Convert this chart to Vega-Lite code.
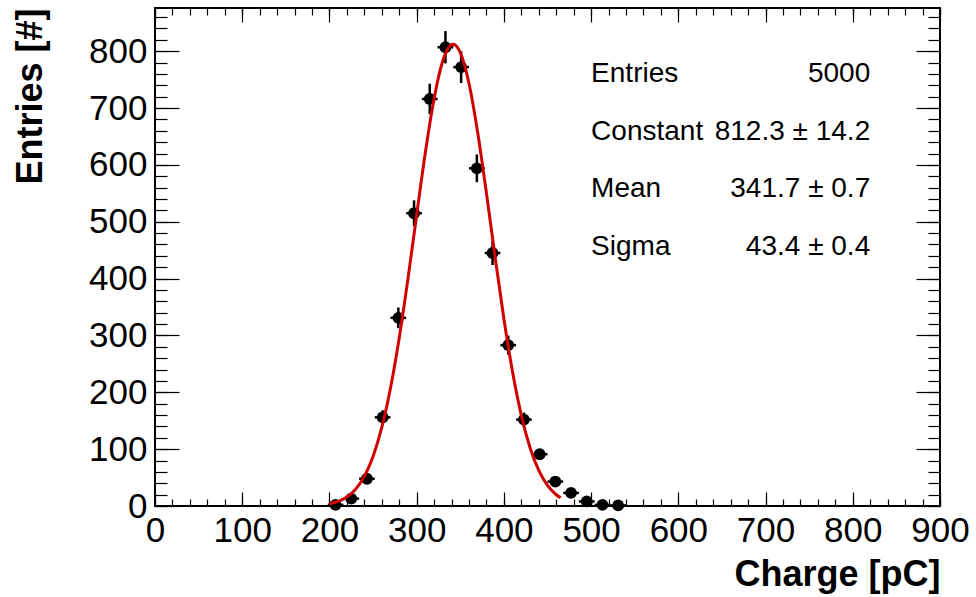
{
  "$schema": "https://vega.github.io/schema/vega-lite/v6.json",
  "width": 785,
  "height": 498,
  "autosize": "none",
  "padding": {"left": 155, "top": 8, "right": 36, "bottom": 91},
  "background": "white",
  "datasets": {
    "hist": [
      {"charge": 207, "count": 2, "lo": 0.59, "hi": 3.41, "x0": 198, "x1": 216},
      {"charge": 225, "count": 13, "lo": 9.39, "hi": 16.61, "x0": 216, "x1": 234},
      {"charge": 243, "count": 48, "lo": 41.07, "hi": 54.93, "x0": 234, "x1": 252},
      {"charge": 261, "count": 156, "lo": 143.51, "hi": 168.49, "x0": 252, "x1": 270},
      {"charge": 279, "count": 331, "lo": 312.81, "hi": 349.19, "x0": 270, "x1": 288},
      {"charge": 297, "count": 515, "lo": 492.31, "hi": 537.69, "x0": 288, "x1": 306},
      {"charge": 315, "count": 716, "lo": 689.24, "hi": 742.76, "x0": 306, "x1": 324},
      {"charge": 333, "count": 807, "lo": 778.59, "hi": 835.41, "x0": 324, "x1": 342},
      {"charge": 351, "count": 772, "lo": 744.22, "hi": 799.78, "x0": 342, "x1": 360},
      {"charge": 369, "count": 594, "lo": 569.63, "hi": 618.37, "x0": 360, "x1": 378},
      {"charge": 387, "count": 445, "lo": 423.9, "hi": 466.1, "x0": 378, "x1": 396},
      {"charge": 405, "count": 283, "lo": 266.18, "hi": 299.82, "x0": 396, "x1": 414},
      {"charge": 423, "count": 152, "lo": 139.67, "hi": 164.33, "x0": 414, "x1": 432},
      {"charge": 441, "count": 91, "lo": 81.46, "hi": 100.54, "x0": 432, "x1": 450},
      {"charge": 459, "count": 43, "lo": 36.44, "hi": 49.56, "x0": 450, "x1": 468},
      {"charge": 477, "count": 23, "lo": 18.2, "hi": 27.8, "x0": 468, "x1": 486},
      {"charge": 495, "count": 8, "lo": 5.17, "hi": 10.83, "x0": 486, "x1": 504},
      {"charge": 513, "count": 2, "lo": 0.59, "hi": 3.41, "x0": 504, "x1": 522},
      {"charge": 531, "count": 1, "lo": 0, "hi": 2, "x0": 522, "x1": 540}
    ],
    "fit": [
      {"charge": 200, "fit": 3.93},
      {"charge": 210, "fit": 8.13},
      {"charge": 220, "fit": 15.93},
      {"charge": 230, "fit": 29.6},
      {"charge": 240, "fit": 52.16},
      {"charge": 250, "fit": 87.15},
      {"charge": 260, "fit": 138.1},
      {"charge": 270, "fit": 207.51},
      {"charge": 280, "fit": 295.69},
      {"charge": 290, "fit": 399.55},
      {"charge": 300, "fit": 511.97},
      {"charge": 310, "fit": 622.12},
      {"charge": 320, "fit": 716.85},
      {"charge": 330, "fit": 783.31},
      {"charge": 340, "fit": 811.68},
      {"charge": 341.7, "fit": 812.3},
      {"charge": 350, "fit": 797.58},
      {"charge": 360, "fit": 743.2},
      {"charge": 370, "fit": 656.73},
      {"charge": 380, "fit": 550.31},
      {"charge": 390, "fit": 437.29},
      {"charge": 400, "fit": 329.51},
      {"charge": 410, "fit": 235.46},
      {"charge": 420, "fit": 159.56},
      {"charge": 430, "fit": 102.53},
      {"charge": 440, "fit": 62.48},
      {"charge": 450, "fit": 36.1},
      {"charge": 460, "fit": 19.78},
      {"charge": 465, "fit": 14.36}
    ],
    "stats": [
      {"stat": "Entries", "value": "5000"},
      {"stat": "Constant", "value": "812.3 ± 14.2"},
      {"stat": "Mean", "value": "341.7 ± 0.7"},
      {"stat": "Sigma", "value": "43.4 ± 0.4"}
    ]
  },
  "config": {
    "font": "Liberation Sans",
    "view": {"stroke": "black", "strokeWidth": 2},
    "axis": {
      "domain": false,
      "grid": false,
      "tickColor": "black",
      "tickWidth": 1.2,
      "labelColor": "black",
      "titleColor": "black",
      "labelFont": "Liberation Sans",
      "titleFont": "Liberation Sans",
      "labelFontSize": 35,
      "titleFontSize": 36,
      "titleFontWeight": "bold",
      "labelOverlap": false,
      "labelFlush": false,
      "labelBound": false
    }
  },
  "resolve": {"scale": {"y": "independent"}, "axis": {"x": "independent", "y": "independent"}},
  "layer": [
    {
      "data": {"name": "hist"},
      "mark": {"type": "rule", "color": "black", "strokeWidth": 2.5},
      "encoding": {
        "x": {"field": "charge", "type": "quantitative", "scale": {"domain": [0, 900], "nice": false, "zero": false},
          "axis": {"orient": "bottom", "values": [0,20,40,60,80,100,120,140,160,180,200,220,240,260,280,300,320,340,360,380,400,420,440,460,480,500,520,540,560,580,600,620,640,660,680,700,720,740,760,780,800,820,840,860,880,900], "tickSize": -7, "labels": false, "title": null}},
        "y": {"field": "lo", "type": "quantitative", "scale": {"domain": [0, 876], "nice": false},
          "axis": {"orient": "left", "values": [0,20,40,60,80,100,120,140,160,180,200,220,240,260,280,300,320,340,360,380,400,420,440,460,480,500,520,540,560,580,600,620,640,660,680,700,720,740,760,780,800,820,840,860], "tickSize": -12, "labels": false, "title": null}},
        "y2": {"field": "hi"}
      }
    },
    {
      "data": {"name": "hist"},
      "mark": {"type": "rule", "color": "black", "strokeWidth": 2.5},
      "encoding": {
        "x": {"field": "x0", "type": "quantitative", "scale": {"domain": [0, 900], "nice": false, "zero": false},
          "axis": {"orient": "top", "values": [0,100,200,300,400,500,600,700,800,900], "tickSize": -14, "labels": false, "title": null}},
        "x2": {"field": "x1"},
        "y": {"field": "count", "type": "quantitative", "scale": {"domain": [0, 876], "nice": false},
          "axis": {"orient": "right", "values": [0,100,200,300,400,500,600,700,800], "tickSize": -24, "labels": false, "title": null}}
      }
    },
    {
      "data": {"name": "hist"},
      "mark": {"type": "circle", "color": "black", "opacity": 1, "size": 140},
      "encoding": {
        "x": {"field": "charge", "type": "quantitative", "scale": {"domain": [0, 900], "nice": false, "zero": false},
          "axis": {"orient": "bottom", "values": [0,100,200,300,400,500,600,700,800,900], "tickSize": -14, "labelPadding": 21,
            "title": "Charge [pC]", "titleAlign": "right", "titleX": 785, "titleY": 79, "titleBaseline": "alphabetic"}},
        "y": {"field": "count", "type": "quantitative", "scale": {"domain": [0, 876], "nice": false},
          "axis": {"orient": "left", "values": [0,100,200,300,400,500,600,700,800], "tickSize": -24, "labelPadding": 32,
            "title": "Entries [#]", "titleAngle": -90, "titleAlign": "right", "titleX": -114, "titleY": 0, "titleBaseline": "alphabetic"}}
      }
    },
    {
      "data": {"name": "fit"},
      "mark": {"type": "line", "color": "#d00000", "strokeWidth": 3, "interpolate": "monotone"},
      "encoding": {
        "x": {"field": "charge", "type": "quantitative", "scale": {"domain": [0, 900], "nice": false, "zero": false},
          "axis": {"orient": "top", "values": [0,20,40,60,80,100,120,140,160,180,200,220,240,260,280,300,320,340,360,380,400,420,440,460,480,500,520,540,560,580,600,620,640,660,680,700,720,740,760,780,800,820,840,860,880,900], "tickSize": -7, "labels": false, "title": null}},
        "y": {"field": "fit", "type": "quantitative", "scale": {"domain": [0, 876], "nice": false},
          "axis": {"orient": "right", "values": [0,20,40,60,80,100,120,140,160,180,200,220,240,260,280,300,320,340,360,380,400,420,440,460,480,500,520,540,560,580,600,620,640,660,680,700,720,740,760,780,800,820,840,860], "tickSize": -12, "labels": false, "title": null}}
      }
    },
    {
      "data": {"name": "stats"},
      "mark": {"type": "text", "align": "left", "baseline": "alphabetic", "fontSize": 28, "font": "Liberation Sans", "color": "black"},
      "encoding": {
        "x": {"datum": 500, "type": "quantitative", "axis": null},
        "y": {"field": "stat", "type": "nominal", "axis": null, "scale": {"type": "point", "domain": ["Entries", "Constant", "Mean", "Sigma"], "range": [74, 247], "padding": 0}},
        "text": {"field": "stat"}
      }
    },
    {
      "data": {"name": "stats"},
      "mark": {"type": "text", "align": "right", "baseline": "alphabetic", "fontSize": 28, "font": "Liberation Sans", "color": "black"},
      "encoding": {
        "x": {"datum": 820, "type": "quantitative", "axis": null},
        "y": {"field": "stat", "type": "nominal", "axis": null, "scale": {"type": "point", "domain": ["Entries", "Constant", "Mean", "Sigma"], "range": [74, 247], "padding": 0}},
        "text": {"field": "value"}
      }
    }
  ]
}
